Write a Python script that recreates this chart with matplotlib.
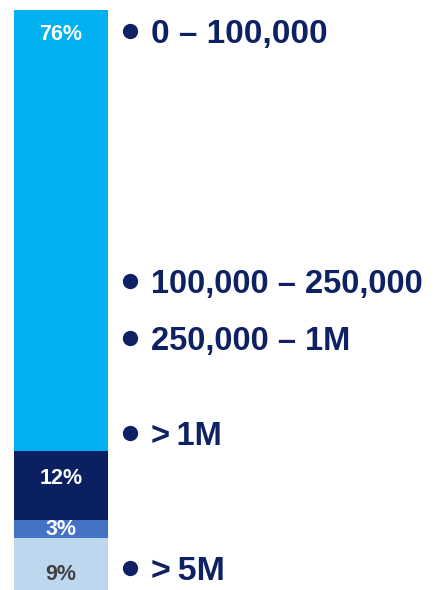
import matplotlib
matplotlib.use("Agg")
import matplotlib.pyplot as plt
from matplotlib.lines import Line2D

# segment values, bottom to top
shares = [9, 3, 12, 76]
share_labels = ["9%", "3%", "12%", "76%"]
seg_colors = ["#BDD7EE", "#4472C4", "#0A2061", "#00B0F0"]
pct_colors = ["#404040", "white", "white", "white"]

# legend entries (top to bottom) and their baseline rows in pixels
ranges = ["0 \u2013 100,000", "100,000 \u2013 250,000", "250,000 \u2013 1M", ">\u20091M", ">\u20095M"]
range_rows = [43, 293, 350, 445, 580]
range_sizes = [24, 23.5, 23.5, 23.5, 24.5]

W, H = 436, 590
navy = "#0D2163"
plt.rcParams['font.family'] = ['Liberation Sans', 'DejaVu Sans']

fig = plt.figure(figsize=(W / 100, H / 100), dpi=100)
fig.patch.set_facecolor("white")

def fx(x):
    return x / W

def fy(y):
    return 1 - y / H

# the stacked bar
ax = fig.add_axes([fx(14), 0, fx(108) - fx(14), fy(10)])
bottom = 0
for val, lab, col, tcol in zip(shares, share_labels, seg_colors, pct_colors):
    ax.bar(0, val, bottom=bottom, width=1, color=col, edgecolor="none")
    if lab == "76%":
        ty = bottom + val - 4.2
    elif lab == "9%":
        ty = bottom + val / 2 - 1.9
    elif lab == "12%":
        ty = bottom + val / 2 + 1.2
    else:
        ty = bottom + val / 2
    ax.text(0, ty, lab, ha="center", va="center", color=tcol,
            fontsize=15.5, fontweight="bold")
    bottom += val
ax.set_xlim(-0.5, 0.5)
ax.set_ylim(0, 100)
ax.axis("off")

# bullet list on the right
for name, row, size in zip(ranges, range_rows, range_sizes):
    cap = size * 100 / 72 * 0.72
    fig.add_artist(Line2D([fx(130)], [fy(row - cap / 2)], marker="o",
                          markersize=10, color=navy, transform=fig.transFigure))
    fig.text(fx(151), fy(row), name, ha="left", va="baseline", color=navy,
             fontsize=size, fontweight="bold")

fig.savefig("out.png", dpi=100)
